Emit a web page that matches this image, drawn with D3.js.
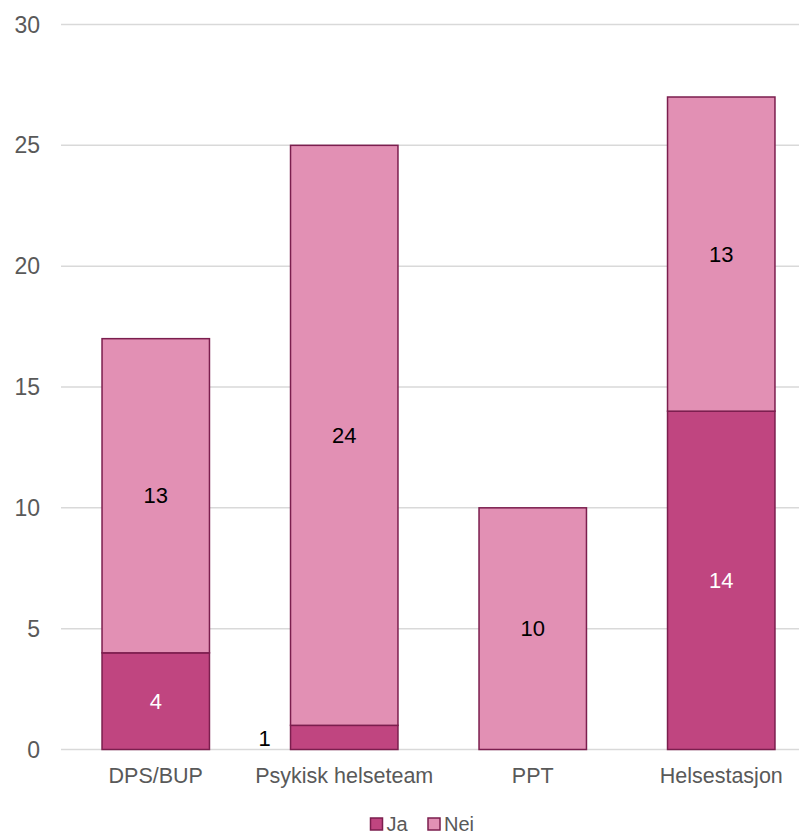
<!DOCTYPE html>
<html>
<head>
<meta charset="utf-8">
<script src="https://cdn.jsdelivr.net/npm/d3@7"></script>
<style>
  html, body { margin: 0; padding: 0; background: #fff; }
  svg { display: block; font-family: "Liberation Sans", Arial, sans-serif; }
</style>
</head>
<body>
<svg id="chart" width="799" height="835"></svg>
<script>
const categories = ["DPS/BUP", "Psykisk helseteam", "PPT", "Helsestasjon"];
const seriesNames = ["Ja", "Nei"];
const jaValues = [4, 1, 0, 14];
const neiValues = [13, 24, 10, 13];
const yTicks = [0, 5, 10, 15, 20, 25, 30];

const colors = { Ja: "#C04580", Nei: "#E290B4" };
const strokeColor = "#7B1E4E";

const svg = d3.select("#chart");
const W = 799;

const x = d3.scaleBand().domain(categories).range([61.5, 815.5]).paddingInner(0.43).paddingOuter(0.215);
const y = d3.scaleLinear().domain([0, 30]).range([749.5, 24.5]);

// horizontal gridlines
svg.append("g").selectAll("line").data(yTicks).join("line")
  .attr("x1", 61).attr("x2", W)
  .attr("y1", d => y(d)).attr("y2", d => y(d))
  .attr("stroke", "#D9D9D9").attr("stroke-width", 1.5);

// y tick labels
svg.append("g").selectAll("text").data(yTicks).join("text")
  .attr("x", 40).attr("y", d => y(d)).attr("dy", "0.35em")
  .attr("text-anchor", "end").attr("fill", "#595959").attr("font-size", 23)
  .text(d => d);

// stacked data
const rows = categories.map((c, i) => ({ cat: c, Ja: jaValues[i], Nei: neiValues[i] }));
const stack = d3.stack().keys(seriesNames)(rows);

const layers = svg.append("g").selectAll("g").data(stack).join("g")
  .attr("fill", d => colors[d.key]);

layers.selectAll("rect").data(d => d.filter(s => s[1] - s[0] > 0)).join("rect")
  .attr("x", d => x(d.data.cat))
  .attr("width", x.bandwidth())
  .attr("y", d => y(d[1]))
  .attr("height", d => y(d[0]) - y(d[1]))
  .attr("stroke", strokeColor).attr("stroke-width", 1.5);

// value labels
stack.forEach(layer => {
  layer.forEach(s => {
    const v = s[1] - s[0];
    if (v <= 0) return;
    const small = v < 2;
    const cx = small ? x(s.data.cat) - 26 : x(s.data.cat) + x.bandwidth() / 2;
    const cy = small ? y(s[0]) - 11 : (y(s[0]) + y(s[1])) / 2;
    svg.append("text")
      .attr("x", cx).attr("y", cy).attr("dy", "0.35em")
      .attr("text-anchor", "middle").attr("font-size", 22)
      .attr("fill", layer.key === "Ja" && !small ? "#FFFFFF" : "#000000")
      .text(v);
  });
});

// category labels
svg.append("g").selectAll("text").data(categories).join("text")
  .attr("x", d => x(d) + x.bandwidth() / 2).attr("y", 775)
  .attr("dy", "0.35em").attr("text-anchor", "middle")
  .attr("fill", "#595959").attr("font-size", 21.5)
  .text(d => d);

// legend
const legend = svg.append("g");
const legendItems = [{ key: "Ja", x: 370.5 }, { key: "Nei", x: 428 }];
legendItems.forEach(it => {
  legend.append("rect").attr("x", it.x).attr("y", 818).attr("width", 12).attr("height", 12)
    .attr("fill", colors[it.key]).attr("stroke", strokeColor).attr("stroke-width", 1.5);
  legend.append("text").attr("x", it.x + 16).attr("y", 823.5).attr("dy", "0.35em")
    .attr("fill", "#595959").attr("font-size", 20).text(it.key);
});
</script>
</body>
</html>
